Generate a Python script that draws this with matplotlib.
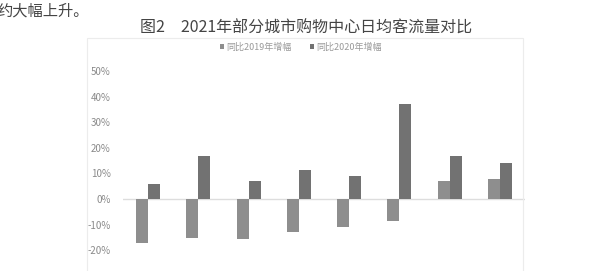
import matplotlib
matplotlib.use("Agg")
import matplotlib.pyplot as plt
import matplotlib.patches as mpatches
import numpy as np

plt.rcParams['font.family'] = ['Noto Sans CJK SC', 'DejaVu Sans']

# data (% change)
series_names = ["同比2019年增幅", "同比2020年增幅"]
vs2019 = [-17.3, -15.4, -15.5, -12.7, -11.0, -8.5, 7.0, 8.0]
vs2020 = [6.0, 17.0, 7.0, 11.5, 9.0, 37.3, 17.0, 14.0]
yticks = [-20, -10, 0, 10, 20, 30, 40, 50]
bar_colors = ["#8e8e8e", "#727272"]

W, H = 614, 271
fig = plt.figure(figsize=(W / 100, H / 100), dpi=100)

# faint frame of the embedded chart
frame = mpatches.Rectangle((87 / W, -0.01), (523 - 87) / W, (H - 38) / H + 0.01,
                           transform=fig.transFigure, fill=False,
                           edgecolor="#ececec", linewidth=0.8)
fig.patches.append(frame)

# body text line and figure caption
fig.text(-3 / W, 1 - 11 / H, "约大幅上升。", fontsize=11, color="#444444",
         ha="left", va="center")
fig.text(306 / W, 1 - 28 / H, "图2\u30002021年部分城市购物中心日均客流量对比",
         fontsize=11.5, color="#444444", ha="center", va="center")

ax = fig.add_axes([123 / W, 0, (525 - 123) / W, (H - 60) / H])
x = np.arange(len(vs2019))
bw = 0.24
b1 = ax.bar(x - bw / 2, vs2019, width=bw, color=bar_colors[0], zorder=3)
b2 = ax.bar(x + bw / 2, vs2020, width=bw, color=bar_colors[1], zorder=3)
ax.axhline(0, color="#dddddd", linewidth=1.0, zorder=2)

ax.set_xlim(-0.5, len(vs2019) - 0.5)
ax.set_ylim(-28.1, 54.3)
ax.set_yticks(yticks)
ax.set_yticklabels(["%d%%" % v for v in yticks], fontsize=7, color="#8a8a8a")
ax.tick_params(axis="y", length=0, pad=9)
ax.set_xticks([])
for s in ax.spines.values():
	s.set_visible(False)
ax.patch.set_alpha(0)

leg = fig.legend([b1, b2], series_names, loc="center", bbox_to_anchor=(301 / W, 1 - 47 / H),
                 ncol=2, frameon=False, fontsize=6.5, handlelength=0.4, handleheight=0.4,
                 handletextpad=0.3, columnspacing=2.0)
for t in leg.get_texts():
	t.set_color("#999999")

fig.savefig("out.png", dpi=100)
